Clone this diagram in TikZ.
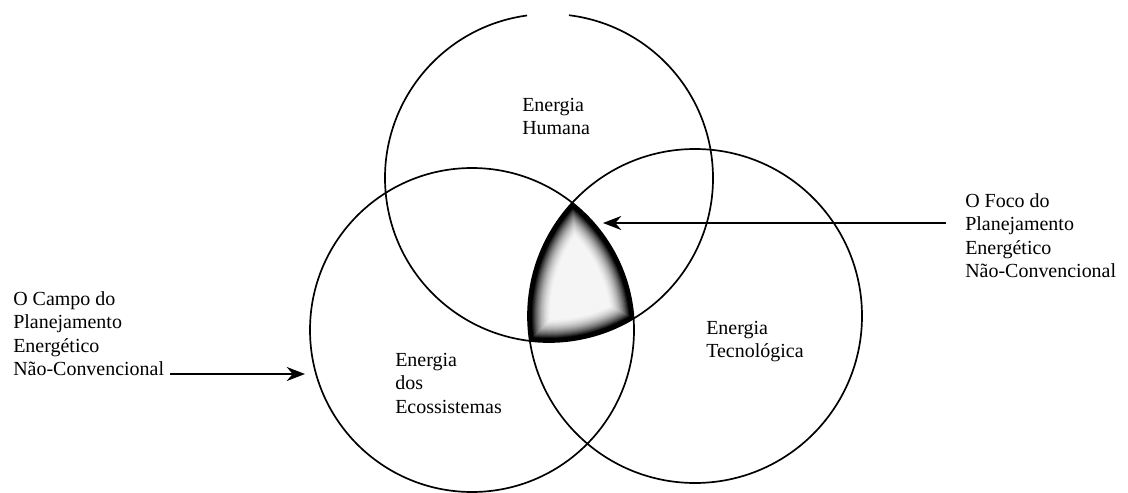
\documentclass[tikz,border=0pt]{standalone}
\usepackage{fontspec}
\setmainfont{Liberation Serif}
\usetikzlibrary{arrows.meta, positioning}
\tikzset{
  circulo/.style={draw=black, line width=1.2pt},
  rotulo/.style={inner sep=0pt, align=left, anchor=north west, font=\fontsize{14.2}{16.7}\selectfont},
  seta/.style={-{Stealth[length=13pt, width=10pt]}, line width=1.3pt, draw=black}
}

\begin{document}
\begin{tikzpicture}[x=0.025cm, y=0.025cm]
\useasboundingbox (0,0) rectangle (1128,-492);

\coordinate (ch) at (549,-178);
\coordinate (ce) at (472,-330);
\coordinate (ct) at (695,-316);

% o foco: zona comum aos tres circulos
\begin{scope}
  \clip (ch) circle (164);
  \clip (ce) circle (162);
  \clip (ct) circle (167);
  \fill[black!4] (500,-180) rectangle (660,-360);
  \foreach \d in {28,27,...,2} {
    \pgfmathtruncatemacro\k{min(100,max(4,100*((29-\d)/25)^2.3))}
    \draw[line width=\d*1.42pt, black!\k] (ch) circle (164) (ce) circle (162) (ct) circle (167);
  }
\end{scope}

\draw[circulo] (ch) ++(97.7:164) arc[start angle=97.7, end angle=443, radius=164];
\draw[circulo] (ce) circle (162);
\draw[circulo] (ct) circle (167);

\node[rotulo] (humana) at (522,-98) {Energia\\Humana};
\node[rotulo] (ecossist) at (395,-353) {Energia\\dos\\Ecossistemas};
\node[rotulo] (tecno) at (706,-321) {Energia\\Tecnológica};
\node[rotulo] (foco) at (965,-193) {O Foco do\\Planejamento\\Energético\\Não-Convencional};
\node[rotulo] (campo) at (13,-291) {O Campo do\\Planejamento\\Energético\\Não-Convencional};

\coordinate (focotip) at (603,-223);
\coordinate (campotip) at (305,-374);
\draw[seta] (foco.west |- focotip) ++(-19,0) -- (focotip);
\draw[seta] (campo.east |- campotip) ++(6,0) -- (campotip);

\end{tikzpicture}
\end{document}
